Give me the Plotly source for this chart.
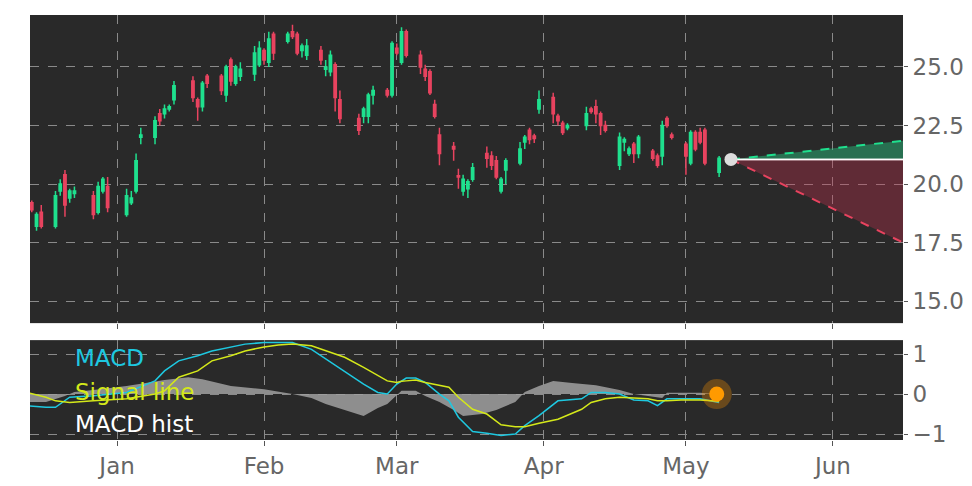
import pandas as pd
import plotly.graph_objects as go
from plotly.subplots import make_subplots

opens = [19.2,19.2,18.2,18.8,18.2,19.7,20.4,19.4,19.6,19.5,18.8,19.7,19.9,18.7,19.2,19.7,22.0,22.0,23.0,23.0,
         23.2,23.6,24.4,23.6,23.3,24.6,24.6,23.8,25.3,24.3,24.6,24.7,25.1,25.7,25.2,26.4,26.1,26.5,26.4,25.7,
         25.5,25.7,24.9,24.8,25.1,23.6,22.8,22.9,22.9,23.8,24.0,23.8,25.8,25.2,
         26.5,25.5,24.9,24.8,23.4,22.1,21.6,20.35,19.7,19.8,20.2,21.3,21.2,21.0,19.7,20.6,20.9,21.8,22.3,22.05,
         23.2,23.7,22.9,22.6,22.4,22.5,23.2,23.3,23.0,22.5,20.8,21.8,21.3,21.7,21.3,21.4,21.2,21.2,22.8,22.1,
         21.7,20.9,22.2,22.2,22.3,20.5]
closes = [19.4,18.9,18.7,18.2,19.5,20.0,19.1,19.7,19.7,18.7,19.9,20.2,19.0,19.5,19.4,21.0,22.1,22.7,22.7,23.2,
          23.3,24.2,23.7,23.3,24.3,24.3,24.0,25.0,24.4,25.0,24.9,25.6,25.8,25.3,26.2,25.6,26.4,26.3,25.6,25.9,
          25.9,25.3,25.0,25.5,23.7,22.8,22.3,23.2,23.8,24.0,23.8,26.0,25.6,26.5,
          25.5,25.0,24.6,23.9,22.9,21.3,21.5,20.3,20.2,20.1,20.7,21.1,20.8,20.3,20.2,21.0,21.5,22.0,21.9,21.95,
          23.6,23.0,22.7,22.2,22.5,23.0,23.1,23.0,22.5,22.3,22.0,21.9,21.5,21.3,22.0,21.1,20.8,22.5,22.5,22.0,
          21.2,22.2,21.5,21.8,20.9,21.1]
wick_up = [0.2,0.1,0.1,0.3,0.2,0.2,0.2,0.1,0.2,0.2,0.2,0.1,0.4,0.3,0.3,0.3,0.3,0.2,0.2,0.2,
           0.1,0.2,0.2,0.1,0.1,0.1,0.1,0.1,0.1,0.1,0.3,0.3,0.3,0.1,0.3,0.1,0.1,0.3,0.1,0.1,
           0.3,0.2,0.3,0.2,0.1,0.4,0.2,0.1,0.1,0.2,0.1,0.1,0.2,0.2,
           0.1,0.2,0.2,0.1,0.2,0.3,0.2,0.3,0.2,0.1,0.2,0.3,0.2,0.2,0.1,0.1,0.3,0.1,0.1,0.1,
           0.4,0.2,0.1,0.1,0.1,0.3,0.1,0.3,0.1,0.2,0.2,0.1,0.1,0.1,0.1,0.1,0.1,0.2,0.1,0.1,
           0.1,0.1,0.1,0.2,0.1,0.1]
wick_dn = [0.1,0.1,0.2,0.1,0.1,0.2,0.5,0.2,0.2,0.2,0.1,0.1,0.2,0.1,0.1,0.1,0.3,0.3,0.2,0.2,
           0.1,0.2,0.2,0.6,0.2,0.2,0.2,0.3,0.2,0.1,0.2,0.3,0.1,0.2,0.2,0.3,0.1,0.1,0.1,0.3,
           0.2,0.2,0.3,0.2,0.6,0.2,0.2,0.3,0.3,0.4,0.1,0.1,0.1,0.1,
           0.1,0.3,0.2,0.1,0.1,0.5,0.5,0.5,0.2,0.4,0.1,0.4,0.2,0.1,0.1,0.6,0.1,0.3,0.2,0.2,
           0.2,0.4,0.2,0.1,0.1,0.2,0.1,0.4,0.4,0.1,0.2,0.4,0.1,0.4,0.2,0.1,0.1,0.4,0.1,0.1,
           0.8,0.1,0.1,0.1,0.1,0.2]

holidays = ["2022-12-26", "2023-01-02", "2023-01-16", "2023-02-20", "2023-04-07"]
dates = pd.bdate_range("2022-12-13", periods=len(opens), freq="C", holidays=holidays)
highs = [max(o, c) + w for o, c, w in zip(opens, closes, wick_up)]
lows = [min(o, c) - w for o, c, w in zip(opens, closes, wick_dn)]

macd_dates = ["2022-12-13","2022-12-17","2022-12-19","2022-12-22","2022-12-27","2023-01-03","2023-01-09",
              "2023-01-11","2023-01-14","2023-01-18","2023-01-21","2023-01-25","2023-01-28","2023-02-01",
              "2023-02-04","2023-02-07","2023-02-11","2023-02-14","2023-02-18","2023-02-22","2023-02-25",
              "2023-02-27","2023-03-01","2023-03-02","2023-03-03","2023-03-05","2023-03-07","2023-03-10",
              "2023-03-12","2023-03-14","2023-03-17","2023-03-20","2023-03-23","2023-03-26","2023-03-28",
              "2023-03-31","2023-04-04","2023-04-09","2023-04-11","2023-04-14","2023-04-17","2023-04-20",
              "2023-04-23","2023-04-25","2023-04-27","2023-04-30","2023-05-04","2023-05-08"]
macd_vals = [-0.29,-0.33,-0.33,-0.08,-0.04,0.04,0.33,0.58,0.83,0.96,1.08,1.17,1.25,1.29,1.29,1.29,1.12,
             0.88,0.58,0.25,0.04,0.0,0.25,0.33,0.40,0.40,0.29,0.0,-0.17,-0.58,-0.94,-0.98,-1.04,-1.0,
             -0.79,-0.54,-0.17,-0.12,0.04,0.04,0.0,-0.15,-0.17,-0.29,-0.12,-0.12,-0.12,-0.21]
signal_vals = [0.04,-0.08,-0.17,-0.21,-0.17,-0.12,0.0,0.08,0.42,0.58,0.83,0.96,1.08,1.18,1.23,1.25,1.21,
               1.08,0.92,0.67,0.46,0.33,0.29,0.32,0.33,0.35,0.29,0.21,0.17,-0.08,-0.38,-0.5,-0.77,-0.82,
               -0.82,-0.73,-0.63,-0.38,-0.21,-0.12,-0.08,-0.10,-0.12,-0.17,-0.17,-0.15,-0.15,-0.18]

hist_dates = ["2022-12-13","2022-12-17","2022-12-21","2022-12-23","2022-12-27","2023-01-03","2023-01-11",
              "2023-01-16","2023-01-19","2023-01-25","2023-02-01","2023-02-07","2023-02-11","2023-02-14",
              "2023-02-18","2023-02-22","2023-02-25","2023-02-27","2023-03-02","2023-03-05","2023-03-07",
              "2023-03-10","2023-03-13","2023-03-15","2023-03-19","2023-03-22","2023-03-26","2023-03-28",
              "2023-03-31","2023-04-03","2023-04-07","2023-04-12","2023-04-17","2023-04-20","2023-04-23",
              "2023-04-26","2023-04-27","2023-05-04","2023-05-07"]
hist_vals = [-0.2,-0.2,-0.05,0.05,0.1,0.2,0.35,0.42,0.37,0.2,0.12,0.0,-0.1,-0.25,-0.4,-0.55,-0.35,-0.25,
             0.08,0.08,-0.05,-0.2,-0.4,-0.55,-0.5,-0.4,-0.2,0.05,0.2,0.33,0.28,0.22,0.1,0.0,-0.05,-0.1,
             0.03,0.03,0.0]

proj_dates = ["2023-05-10 12:00", "2023-06-15 19:00"]
last_close = 21.05
proj_up = [21.05, 21.85]
proj_dn = [21.05, 17.5]
macd_dot_date = "2023-05-07 12:00"
macd_dot_val = 0.0

GREEN = "#1fe08e"
RED = "#e8435f"
BG = "#292929"

fig = make_subplots(rows=2, cols=1, shared_xaxes=True, row_heights=[0.75, 0.25], vertical_spacing=0.04)

fig.add_trace(go.Scatter(x=proj_dates, y=[last_close, last_close], mode="lines",
                         line=dict(color="white", width=1.5), showlegend=False), 1, 1)
fig.add_trace(go.Scatter(x=proj_dates, y=proj_up, mode="lines", fill="tonexty",
                         fillcolor="rgba(40,200,130,0.45)", line=dict(color=GREEN, width=2, dash="dash"),
                         showlegend=False), 1, 1)
fig.add_trace(go.Scatter(x=proj_dates, y=[last_close, last_close], mode="lines",
                         line=dict(color="white", width=1.5), showlegend=False), 1, 1)
fig.add_trace(go.Scatter(x=proj_dates, y=proj_dn, mode="lines", fill="tonexty",
                         fillcolor="rgba(200,50,80,0.35)", line=dict(color=RED, width=2, dash="dash"),
                         showlegend=False), 1, 1)
fig.add_trace(go.Candlestick(x=dates, open=opens, high=highs, low=lows, close=closes,
                             increasing=dict(line=dict(color=GREEN, width=1.5), fillcolor=GREEN),
                             decreasing=dict(line=dict(color=RED, width=1.5), fillcolor=RED),
                             whiskerwidth=0, showlegend=False), 1, 1)
fig.add_trace(go.Scatter(x=[proj_dates[0]], y=[last_close], mode="markers",
                         marker=dict(color="#dddddd", size=13), showlegend=False), 1, 1)

fig.add_trace(go.Scatter(x=hist_dates, y=hist_vals, mode="lines", fill="tozeroy",
                         fillcolor="rgba(160,160,160,0.85)", line=dict(color="rgba(160,160,160,0.85)", width=0),
                         showlegend=False), 2, 1)
fig.add_trace(go.Scatter(x=macd_dates, y=macd_vals, mode="lines", line=dict(color="#1ec8e0", width=1.5),
                         showlegend=False), 2, 1)
fig.add_trace(go.Scatter(x=macd_dates, y=signal_vals, mode="lines", line=dict(color="#d4e81a", width=1.5),
                         showlegend=False), 2, 1)
fig.add_trace(go.Scatter(x=[macd_dot_date], y=[macd_dot_val], mode="markers",
                         marker=dict(color="rgba(255,150,0,0.3)", size=30), showlegend=False), 2, 1)
fig.add_trace(go.Scatter(x=[macd_dot_date], y=[macd_dot_val], mode="markers",
                         marker=dict(color="#ff9a00", size=15), showlegend=False), 2, 1)

for txt, col, yy in [("MACD", "#1ec8e0", 0.82), ("Signal line", "#d4e81a", 0.48), ("MACD hist", "white", 0.16)]:
    fig.add_annotation(text=txt, xref="paper", yref="paper", x=0.049, y=yy * 0.235, xanchor="left",
                       yanchor="middle", showarrow=False, font=dict(color=col, size=23))

grid = dict(showgrid=True, gridcolor="#8a8a8a", griddash="dash", gridwidth=1, zeroline=False)
xr = ["2022-12-13 15:00", "2023-06-15 19:00"]
fig.update_xaxes(range=xr, **grid, ticks="outside", ticklen=5, tickcolor="#555", dtick="M1",
                 tickformat="%b", tickfont=dict(size=23, color="#666"), showline=False,
                 rangeslider_visible=False)
fig.update_xaxes(showticklabels=False, row=1, col=1)
fig.update_yaxes(side="right", **grid, tickfont=dict(size=23, color="#666"), ticks="outside",
                 ticklen=4, tickcolor="#555")
fig.update_yaxes(range=[14.06, 27.22], tickvals=[15, 17.5, 20, 22.5, 25], ticktext=["15.0", "17.5", "20.0", "22.5", "25.0"], row=1, col=1)
fig.update_yaxes(range=[-1.15, 1.35], tickvals=[-1, 0, 1], ticktext=["\u22121", "0", "1"], row=2, col=1)
fig.update_layout(width=964, height=478, margin=dict(l=22, r=69, t=7, b=46, autoexpand=False),
                  paper_bgcolor="white", plot_bgcolor=BG, font=dict(family="DejaVu Sans"))
fig.update_layout(yaxis=dict(domain=[0.275, 1]), yaxis2=dict(domain=[0, 0.235]))
fig.write_html("out.html")
